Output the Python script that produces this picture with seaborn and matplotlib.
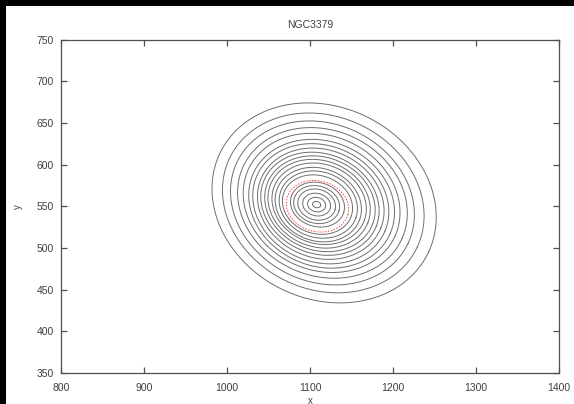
import numpy as np
import pandas as pd
import matplotlib
matplotlib.use("Agg")
import matplotlib.pyplot as plt
import seaborn as sns
from matplotlib.patches import Rectangle

# Isophote parameters (data units)
semi_major = [139, 125, 114, 105, 97, 90, 84, 78, 73, 68, 63, 58, 53, 48, 43, 33, 28, 23, 17, 11, 5]
axis_ratio = [0.83, 0.83, 0.83, 0.83, 0.83, 0.83, 0.83, 0.83, 0.82, 0.82, 0.82, 0.82, 0.82, 0.82, 0.81,
              0.80, 0.80, 0.80, 0.79, 0.78, 0.75]
pos_angle = [-25, -25, -25, -24, -24, -23, -23, -22, -22, -21, -21, -20, -20, -19, -18,
             -16, -15, -15, -14, -13, -12]
center_x = [1117, 1116, 1115, 1115, 1114, 1114, 1113, 1113, 1112, 1112, 1111, 1111, 1110, 1110, 1109,
            1109, 1108, 1108, 1108, 1108, 1108]
center_y = [554, 554, 554, 554, 554, 553, 553, 553, 553, 553, 553, 553, 552, 552, 552,
            552, 552, 552, 552, 552, 552]

# Highlighted (red dashed) isophote
red_semi_major = [38]
red_axis_ratio = [0.80]
red_pos_angle = [-15]
red_center_x = [1109]
red_center_y = [550]

title = "NGC3379"
x_ticks = [800, 900, 1000, 1100, 1200, 1300, 1400]
y_ticks = [350, 400, 450, 500, 550, 600, 650, 700, 750]


def build(a_list, q_list, pa_list, x0_list, y0_list):
    t = np.linspace(0, 2 * np.pi, 241)
    rows = []
    for i, (a, q, pa, x0, y0) in enumerate(zip(a_list, q_list, pa_list, x0_list, y0_list)):
        b = a * q
        th = np.deg2rad(pa)
        xs = x0 + a * np.cos(t) * np.cos(th) - b * np.sin(t) * np.sin(th)
        ys = y0 + a * np.cos(t) * np.sin(th) + b * np.sin(t) * np.cos(th)
        for k, (xx, yy) in enumerate(zip(xs, ys)):
            rows.append({"ring": i, "order": k, "x": xx, "y": yy})
    return pd.DataFrame(rows)


df = build(semi_major, axis_ratio, pos_angle, center_x, center_y)
df_red = build(red_semi_major, red_axis_ratio, red_pos_angle, red_center_x, red_center_y)

sns.set_style("white")
plt.rcParams["font.family"] = ["Liberation Sans", "DejaVu Sans"]

fig = plt.figure(figsize=(5.74, 4.04), dpi=100)
fig.patch.set_facecolor("white")

ax = fig.add_axes([61 / 574, 1 - 373 / 404, (559 - 61) / 574, (373 - 39.5) / 404])
ax.set_facecolor("white")

sns.lineplot(data=df, x="x", y="y", units="ring", estimator=None, sort=False,
             color="#6e6e6e", lw=0.7, ax=ax, legend=False)
sns.lineplot(data=df_red, x="x", y="y", units="ring", estimator=None, sort=False,
             color="#ff4a4a", lw=0.7, ax=ax, legend=False)
ax.lines[-1].set_dashes([1.6, 1.4])

ax.set_xlim(800, 1400)
ax.set_ylim(350, 750)
ax.set_xticks(x_ticks)
ax.set_yticks(y_ticks)
ax.tick_params(direction="in", length=4, width=0.9, colors="#505050", labelcolor="#404040",
               labelsize=7.5, top=True, right=True, bottom=True, left=True)
ax.tick_params(axis="x", pad=7)
ax.tick_params(axis="y", pad=5)
for s in ax.spines.values():
    s.set_color("#505050")
    s.set_linewidth(0.9)
    s.set_visible(True)

ax.set_title(title, fontsize=7.5, color="#404040", pad=8)
ax.set_xlabel("x", fontsize=7, color="#404040", labelpad=2)
ax.set_ylabel("y", fontsize=7, color="#404040", labelpad=10)

# black border strips (left and top) as in the reference image
fig.add_artist(Rectangle((0, 0), 6 / 574, 1, transform=fig.transFigure,
                         facecolor="black", edgecolor="none", zorder=10))
fig.add_artist(Rectangle((0, 1 - 6 / 404), 1, 6 / 404, transform=fig.transFigure,
                         facecolor="black", edgecolor="none", zorder=10))

fig.savefig("out.png", dpi=100, facecolor=fig.get_facecolor())
